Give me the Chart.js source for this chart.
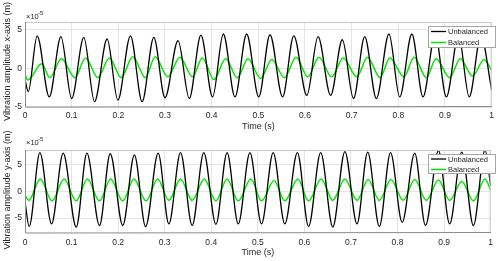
<!DOCTYPE html>
<html>
<head>
<meta charset="utf-8">
<script src="https://cdn.jsdelivr.net/npm/chart.js@4/dist/chart.umd.min.js"></script>
<style>
  html, body { margin: 0; padding: 0; background: #fff; }
  #wrap { position: relative; width: 498px; height: 261px; overflow: hidden; }
  .box { position: absolute; left: 0; width: 498px; }
  #topBox { top: 0; height: 131px; }
  #botBox { top: 118px; height: 143px; }
</style>
</head>
<body>
<div id="wrap">
  <div class="box" id="topBox"><canvas id="chartX"></canvas></div>
  <div class="box" id="botBox"><canvas id="chartY"></canvas></div>
</div>
<script>
const seriesNames = ['Unbalanced', 'Balanced'];
const xTicks = [0, 0.1, 0.2, 0.3, 0.4, 0.5, 0.6, 0.7, 0.8, 0.9, 1];
const yTicks = [-5, 0, 5];

// x-axis vibration, units of 1e-5 m, read at peaks and troughs
const xUnbalT = [0, 0.007, 0.026, 0.052, 0.077, 0.100, 0.126, 0.149, 0.176, 0.199, 0.226, 0.251, 0.276, 0.300,
  0.328, 0.352, 0.377, 0.402, 0.425, 0.450, 0.475, 0.501, 0.525, 0.552, 0.576, 0.604, 0.628, 0.655,
  0.680, 0.704, 0.728, 0.753, 0.780, 0.803, 0.829, 0.853, 0.879, 0.903, 0.929, 0.952, 0.977, 1.0];
const xUnbalV = [-1.5, -3.0, 4.2, -3.7, 4.1, -3.9, 4.0, -4.3, 3.8, -4.1, 4.2, -4.3, 4.0, -3.8,
  3.6, -3.9, 4.3, -3.7, 4.45, -3.7, 4.45, -3.7, 4.35, -3.7, 4.2, -3.5, 4.1, -3.5,
  3.7, -3.9, 4.1, -3.9, 4.45, -3.7, 4.45, -3.7, 4.4, -3.7, 4.3, -3.7, 4.2, -2.8];
const xBalT = [0, 0.006, 0.036, 0.053, 0.078, 0.107, 0.130, 0.156, 0.181, 0.206, 0.231, 0.258, 0.279, 0.306,
  0.332, 0.359, 0.380, 0.405, 0.430, 0.455, 0.478, 0.505, 0.529, 0.556, 0.581, 0.606, 0.630, 0.657,
  0.682, 0.711, 0.734, 0.761, 0.782, 0.812, 0.834, 0.860, 0.881, 0.910, 0.933, 0.959, 0.984, 1.0];
const xBalV = [-0.8, -1.5, 0.6, -1.2, 1.25, -1.2, 1.35, -1.2, 1.35, -1.2, 1.5, -1.2, 1.5, -1.1,
  1.45, -1.1, 1.35, -1.45, 1.25, -1.2, 1.25, -1.3, 1.15, -1.2, 1.45, -1.1, 1.45, -1.1,
  1.35, -1.1, 1.45, -1.2, 1.35, -1.1, 1.45, -1.2, 1.25, -1.2, 1.25, -1.0, 1.15, -0.25];

// y-axis vibration, units of 1e-5 m
const yUnbalT = [0, 0.009, 0.032, 0.057, 0.082, 0.110, 0.133, 0.160, 0.183, 0.210, 0.235, 0.259, 0.286, 0.309,
  0.334, 0.359, 0.384, 0.410, 0.434, 0.458, 0.483, 0.508, 0.533, 0.558, 0.585, 0.609, 0.635, 0.661,
  0.687, 0.713, 0.736, 0.761, 0.785, 0.810, 0.837, 0.860, 0.888, 0.912, 0.938, 0.963, 0.988, 1.0];
const yUnbalV = [-2.0, -6.6, 7.2, -6.1, 7.1, -6.7, 7.1, -6.4, 7.0, -6.4, 6.8, -6.6, 7.1, -6.1,
  7.2, -6.4, 7.2, -6.2, 7.2, -6.1, 7.2, -6.1, 7.2, -6.1, 7.2, -6.6, 7.2, -6.7,
  7.4, -6.1, 7.3, -6.6, 7.2, -5.8, 7.1, -6.4, 7.6, -6.1, 7.3, -6.4, 7.7, 1.0];
const yBalT = [0, 0.008, 0.033, 0.058, 0.084, 0.110, 0.134, 0.160, 0.184, 0.210, 0.234, 0.260, 0.285, 0.309,
  0.334, 0.359, 0.385, 0.410, 0.434, 0.458, 0.485, 0.508, 0.535, 0.558, 0.586, 0.609, 0.636, 0.661,
  0.687, 0.713, 0.737, 0.761, 0.786, 0.812, 0.837, 0.862, 0.888, 0.912, 0.938, 0.963, 0.988, 1.0];
const yBalV = [-0.75, -1.7, 2.3, -1.8, 2.3, -1.8, 2.3, -1.8, 2.3, -1.8, 2.3, -1.8, 2.3, -1.7,
  2.3, -1.7, 2.3, -1.8, 2.3, -1.8, 2.3, -1.8, 2.0, -1.8, 2.3, -1.8, 2.3, -1.7,
  2.3, -1.7, 2.2, -1.7, 2.2, -1.7, 2.2, -1.7, 2.1, -1.7, 1.8, -1.8, 2.3, 0.2];

const FONT = '"Liberation Sans", Arial, Helvetica, sans-serif';
const TXT = '#262626';

function pts(ts, vs) {
    return ts.map((t, i) => ({ x: t, y: vs[i] }));
}

// axis titles, exponent, box and legend drawn by hand (matlab look)
const decor = {
    id: 'decor',
    afterDraw(chart, args, o) {
        const ctx = chart.ctx;
        const a = chart.chartArea;
        ctx.save();

        // box
        ctx.lineWidth = 1;
        ctx.strokeStyle = '#c9c9c9';
        ctx.beginPath();
        ctx.moveTo(a.left, a.top + 0.5);
        ctx.lineTo(a.right, a.top + 0.5);
        ctx.moveTo(a.right - 0.5, a.top);
        ctx.lineTo(a.right - 0.5, a.bottom);
        ctx.stroke();
        ctx.strokeStyle = '#8a8a8a';
        ctx.beginPath();
        ctx.moveTo(a.left + 0.5, a.top);
        ctx.lineTo(a.left + 0.5, a.bottom);
        ctx.lineTo(a.right, a.bottom - 0.5);
        ctx.stroke();

        ctx.fillStyle = TXT;
        // x title
        ctx.font = '9px ' + FONT;
        ctx.textAlign = 'center';
        ctx.textBaseline = 'middle';
        ctx.fillText('Time (s)', (a.left + a.right) / 2, o.xTitleY);

        // y title
        ctx.save();
        ctx.translate(7.5, o.yTitleMid);
        ctx.rotate(-Math.PI / 2);
        ctx.fillText(o.yTitle, 0, 0);
        ctx.restore();

        // exponent
        ctx.textAlign = 'left';
        ctx.textBaseline = 'alphabetic';
        ctx.font = '7.5px ' + FONT;
        ctx.fillText('\u00d710', a.left + 1, a.top - o.expGap);
        ctx.font = '6px ' + FONT;
        ctx.fillText('-5', a.left + 13, a.top - o.expGap - 4);

        // legend
        const L = o.legend;
        ctx.fillStyle = '#ffffff';
        ctx.fillRect(L.x, L.y, L.w, L.h);
        ctx.strokeStyle = '#a6a6a6';
        ctx.strokeRect(L.x + 0.5, L.y + 0.5, L.w - 1, L.h - 1);
        ctx.font = '7.5px ' + FONT;
        ctx.textBaseline = 'middle';
        chart.data.datasets.forEach((ds, i) => {
            const ry = L.y + L.row0 + i * L.gap;
            ctx.strokeStyle = ds.borderColor;
            ctx.lineWidth = ds.borderWidth;
            ctx.beginPath();
            ctx.moveTo(L.x + 3, ry);
            ctx.lineTo(L.x + 18, ry);
            ctx.stroke();
            ctx.fillStyle = TXT;
            ctx.fillText(ds.label, L.x + 20, ry + 0.5);
        });
        ctx.restore();
    }
};

function makeChart(id, unbal, bal, yMin, yMax, axisH, padTop, tickPad, deco) {
    return new Chart(document.getElementById(id), {
        type: 'line',
        data: {
            datasets: [
                { label: seriesNames[0], data: unbal, borderColor: '#000000', borderWidth: 1.3 },
                { label: seriesNames[1], data: bal, borderColor: '#00e800', borderWidth: 1.5 }
            ]
        },
        options: {
            responsive: true,
            maintainAspectRatio: false,
            animation: false,
            layout: { padding: { top: padTop, right: 4, left: 0, bottom: 0 } },
            elements: {
                point: { radius: 0 },
                line: { cubicInterpolationMode: 'monotone', fill: false }
            },
            plugins: {
                legend: { display: false },
                tooltip: { enabled: false },
                decor: deco
            },
            scales: {
                x: {
                    type: 'linear',
                    min: 0,
                    max: 1,
                    afterBuildTicks: s => { s.ticks = xTicks.map(v => ({ value: v })); },
                    afterFit: s => { s.height = axisH; },
                    grid: { color: '#e4e4e4', drawTicks: false },
                    border: { display: false },
                    ticks: {
                        padding: tickPad,
                        color: TXT,
                        font: { family: FONT, size: 8.5 },
                        maxRotation: 0,
                        autoSkip: false,
                        callback: v => String(v)
                    }
                },
                y: {
                    min: yMin,
                    max: yMax,
                    afterBuildTicks: s => { s.ticks = yTicks.map(v => ({ value: v })); },
                    afterFit: s => { s.width = 25; },
                    grid: { color: '#e4e4e4', drawTicks: false },
                    border: { display: false },
                    ticks: {
                        padding: 3,
                        color: TXT,
                        font: { family: FONT, size: 8.5 },
                        callback: v => String(v)
                    }
                }
            }
        },
        plugins: [decor]
    });
}

makeChart('chartX', pts(xUnbalT, xUnbalV), pts(xBalT, xBalV), -5, 6, 24, 22, 4, {
    yTitle: 'Vibration amplitude x-axis (m)',
    yTitleMid: 61.5,
    xTitleY: 127,
    expGap: 3,
    legend: { x: 428, y: 26, w: 68, h: 22, row0: 5.5, gap: 11 }
});

makeChart('chartY', pts(yUnbalT, yUnbalV), pts(yBalT, yBalV), -7.8, 7.7, 28, 32, 5, {
    yTitle: 'Vibration amplitude y-axis (m)',
    yTitleMid: 72,
    xTitleY: 135,
    expGap: 5,
    legend: { x: 428, y: 36, w: 68, h: 20, row0: 5, gap: 10.5 }
});
</script>
</body>
</html>
